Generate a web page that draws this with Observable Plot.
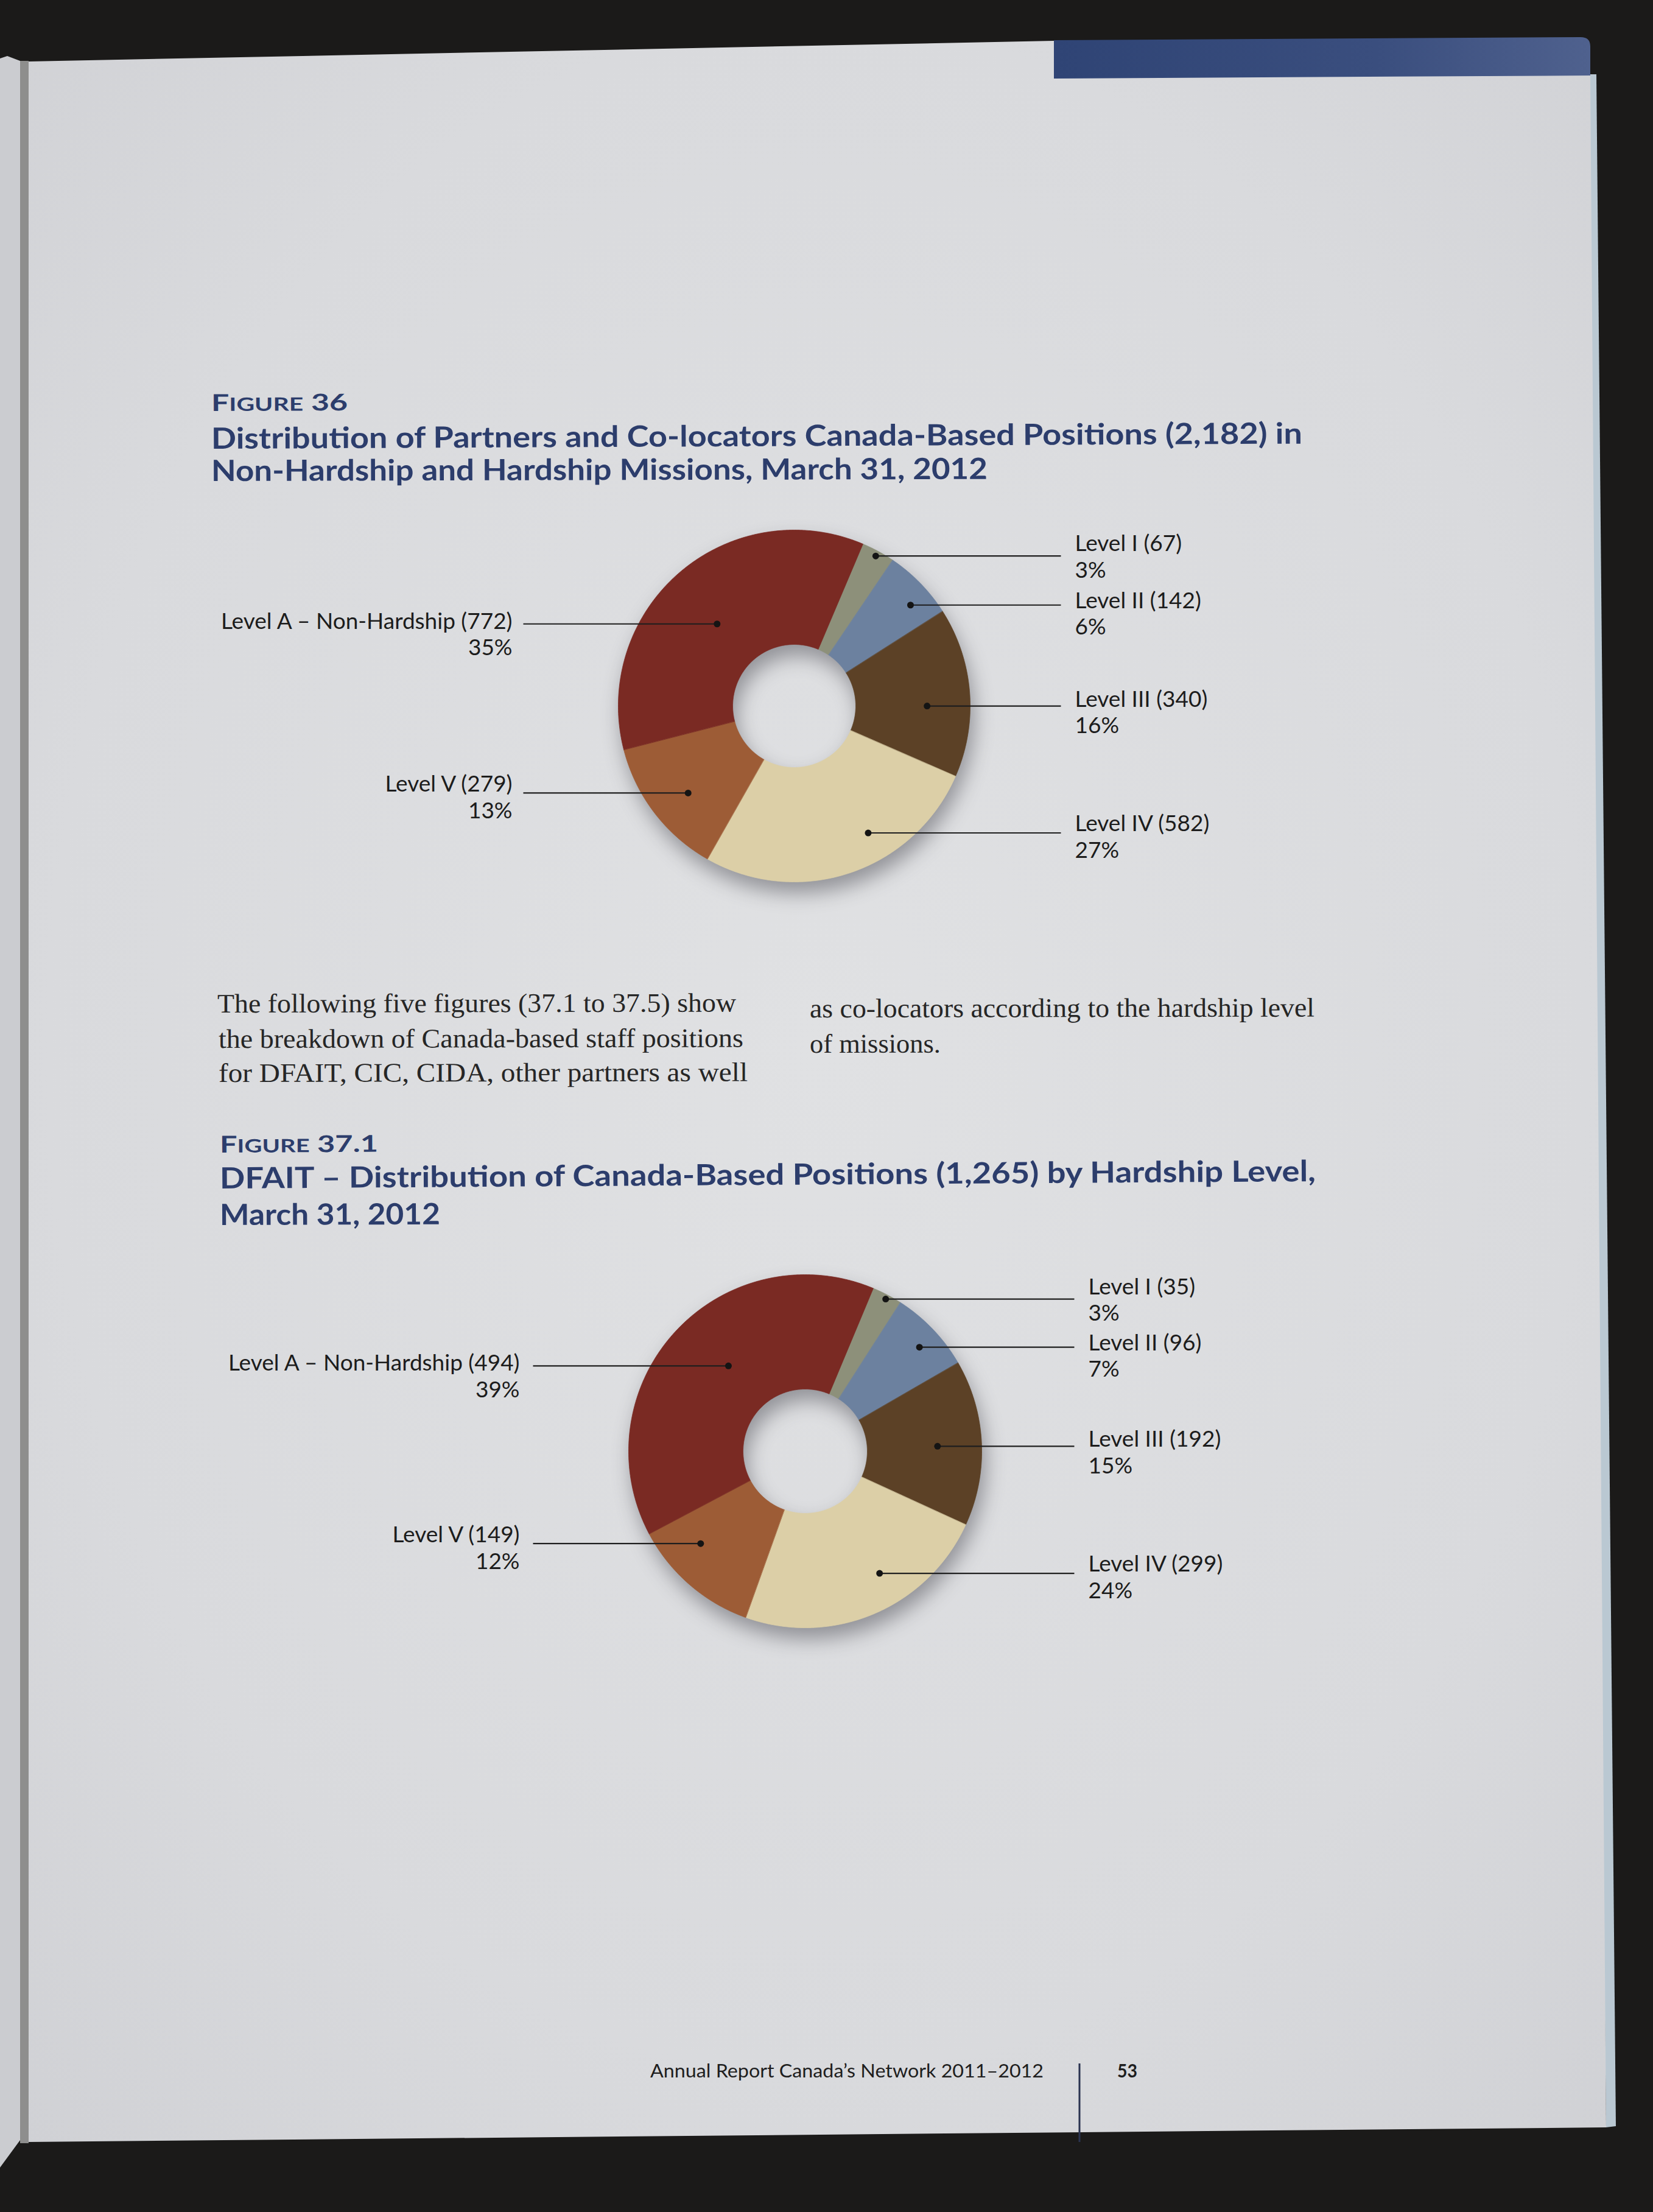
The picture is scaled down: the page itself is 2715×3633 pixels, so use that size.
<!DOCTYPE html>
<html><head><meta charset="utf-8">
<script src="https://cdn.jsdelivr.net/npm/d3@7"></script>
<script src="https://cdn.jsdelivr.net/npm/@observablehq/plot@0.6"></script>
<style>
html,body{margin:0;padding:0;background:#1b1a19;}
#page{position:relative;width:2715px;height:3633px;overflow:hidden;background:#1b1a19;}
#bg{position:absolute;left:0;top:0;}
</style></head>
<body><div id="page"><svg id="bg" width="2715" height="3633"></svg></div>
<script>
// ---------------- DATA ----------------
const categories = ["Level I", "Level II", "Level III", "Level IV", "Level V", "Level A – Non-Hardship"];
const fig36Counts = [67, 142, 340, 582, 279, 772];
const fig36Percents = [3, 6, 16, 27, 13, 35];
const fig371Counts = [35, 96, 192, 299, 149, 494];
const fig371Percents = [3, 7, 15, 24, 12, 39];

const fig36Label = "Figure 36";
const fig36Title = ["Distribution of Partners and Co-locators Canada-Based Positions (2,182) in",
                    "Non-Hardship and Hardship Missions, March 31, 2012"];
const fig371Label = "Figure 37.1";
const fig371Title = ["DFAIT – Distribution of Canada-Based Positions (1,265) by Hardship Level,",
                     "March 31, 2012"];
const bodyLeft = ["The following five figures (37.1 to 37.5) show",
                  "the breakdown of Canada-based staff positions",
                  "for DFAIT, CIC, CIDA, other partners as well"];
const bodyRight = ["as co-locators according to the hardship level", "of missions."];
const footerText = "Annual Report Canada’s Network 2011–2012";
const pageNumber = "53";

// ---------------- STYLE / LAYOUT ----------------
const palette = ["#8d907a", "#6c819f", "#5c4126", "#dccfa7", "#9d5c36", "#7a2a23"];
const navy = "#2c3d6c";
// vertical offset (px) of each label's first baseline relative to its leader line
const labelDy = [-13, 0, -4, -8, -7, 3];

const layout36 = {start: 23, cx: 1304, cy: 1159, R: 289, rIn: 101,
  box: {left: 300, top: 820, w: 2000, h: 700},
  lineL: 859, textL: 841, lineR: 1742, textR: 1765,
  anchorT: [0.5, 0.64, 0.58, 0.377, 0.457, 0.48],
  anchorR: [0.97, 0.875, 0.755, 0.835, 0.78, 0.64]};
const layout371 = {start: 22.7, cx: 1322, cy: 2383, R: 290, rIn: 102,
  box: {left: 300, top: 2040, w: 2000, h: 720},
  lineL: 875, textL: 853, lineR: 1764, textR: 1787,
  anchorT: [0.52, 0.55, 0.51, 0.40, 0.68, 0.54],
  anchorR: [0.975, 0.875, 0.75, 0.81, 0.79, 0.65]};

// ---------------- BACKGROUND PAGE ----------------
const bg = d3.select("#bg");
const defs = bg.append("defs");
const pg = defs.append("radialGradient").attr("id", "paperGrad").attr("cx", "50%").attr("cy", "48%").attr("r", "75%");
pg.append("stop").attr("offset", "0%").attr("stop-color", "#e0e1e3");
pg.append("stop").attr("offset", "65%").attr("stop-color", "#d9dadd");
pg.append("stop").attr("offset", "100%").attr("stop-color", "#cfd0d4");
const bb = defs.append("linearGradient").attr("id", "barGrad");
bb.append("stop").attr("offset", "0%").attr("stop-color", "#2f4475");
bb.append("stop").attr("offset", "60%").attr("stop-color", "#3a4e7e");
bb.append("stop").attr("offset", "100%").attr("stop-color", "#4f618e");

bg.append("polygon").attr("points", "0,96 12,92 33,100 33,3515 0,3560").attr("fill", "#cbccd0");
bg.append("rect").attr("x", 33).attr("y", 100).attr("width", 14).attr("height", 3420).attr("fill", "#8e8e8d");
bg.append("polygon").attr("points", "2600,122 2622,122 2654,3492 2638,3494").attr("fill", "#bac8d2");
bg.append("polygon").attr("points", "47,101 1731,67 2598,62 2610,70 2612,127 2638,3494 47,3518").attr("fill", "url(#paperGrad)");
bg.append("path").attr("d", "M1731,66 L2596,61 Q2612,61 2612,76 L2612,124 L1731,129 Z").attr("fill", "url(#barGrad)");
bg.append("line").attr("x1", 1773).attr("x2", 1773).attr("y1", 3389).attr("y2", 3518).attr("stroke", "#2a3350").attr("stroke-width", 3);

function txt(s, o) {
  const t = bg.append("text").attr("x", o.x).attr("y", o.y)
    .attr("font-family", o.family).attr("font-size", o.size).attr("font-weight", o.weight || 400)
    .attr("fill", o.fill).text(s);
  if (o.w) t.attr("textLength", o.w).attr("lengthAdjust", "spacingAndGlyphs");
  if (o.rot) t.attr("transform", `rotate(${o.rot},${o.x},${o.y})`);
  return t;
}
function smallCaps(s, o) {
  const t = bg.append("text").attr("x", o.x).attr("y", o.y)
    .attr("font-family", o.family).attr("font-weight", 700).attr("fill", o.fill)
    .attr("textLength", o.w).attr("lengthAdjust", "spacingAndGlyphs");
  const groups = [];
  for (const ch of s) {
    const small = ch !== ch.toUpperCase();
    if (groups.length && groups[groups.length - 1].small === small) groups[groups.length - 1].s += ch;
    else groups.push({small, s: ch});
  }
  groups.forEach(g => t.append("tspan").attr("font-size", g.small ? o.small : o.size).text(g.s.toUpperCase()));
  if (o.rot) t.attr("transform", `rotate(${o.rot},${o.x},${o.y})`);
}
const sans = "Lato, 'Open Sans', sans-serif";
const serif = "'Liberation Serif', 'DejaVu Serif', serif";

smallCaps(fig36Label, {x: 347, y: 675, w: 224, size: 38, small: 30, family: sans, fill: navy, rot: -0.25});
const t36 = [{x: 347, y: 737, w: 1792, rot: -0.27}, {x: 347, y: 790, w: 1275, rot: -0.15}];
fig36Title.forEach((s, i) => txt(s, {...t36[i], size: 48, weight: 700, family: sans, fill: navy}));

const bl = [{x: 357, y: 1663, w: 852}, {x: 359, y: 1721, w: 862}, {x: 359, y: 1777, w: 869}];
bodyLeft.forEach((s, i) => txt(s, {...bl[i], size: 44, family: serif, fill: "#262626", rot: -0.1}));
const br = [{x: 1330, y: 1671, w: 829}, {x: 1330, y: 1729, w: 215}];
bodyRight.forEach((s, i) => txt(s, {...br[i], size: 44, family: serif, fill: "#262626", rot: -0.1}));

smallCaps(fig371Label, {x: 361, y: 1893, w: 260, size: 38, small: 30, family: sans, fill: navy, rot: -0.3});
const t37 = [{x: 361, y: 1952, w: 1800, rot: -0.38}, {x: 361, y: 2012, w: 362, rot: -0.2}];
fig371Title.forEach((s, i) => txt(s, {...t37[i], size: 48, weight: 700, family: sans, fill: navy}));

txt(footerText, {x: 1068, y: 3412, w: 646, size: 30, family: sans, fill: "#1e1e1e"});
txt(pageNumber, {x: 1835, y: 3412, w: 33, size: 30, weight: 700, family: sans, fill: "#1e1e1e"});

// ---------------- DONUTS (Observable Plot) ----------------
function drawDonut(counts, percents, L) {
  const s0 = L.start * Math.PI / 180;
  const arcs = d3.pie().sort(null).value(d => d).startAngle(s0).endAngle(s0 + 2 * Math.PI)(counts);
  const inner = L.rIn / L.R;
  const ring = [];
  arcs.forEach((a, i) => {
    const n = Math.max(8, Math.ceil((a.endAngle - a.startAngle) / (Math.PI / 360)));
    for (let k = 0; k <= n; k++) {
      const t = a.startAngle + (a.endAngle - a.startAngle) * k / n;
      ring.push({i, x: Math.sin(t), y: -Math.cos(t), color: palette[i]});
    }
    for (let k = n; k >= 0; k--) {
      const t = a.startAngle + (a.endAngle - a.startAngle) * k / n;
      ring.push({i, x: inner * Math.sin(t), y: -inner * Math.cos(t), color: palette[i]});
    }
  });
  const leaders = arcs.map((a, i) => {
    const t = a.startAngle + L.anchorT[i] * (a.endAngle - a.startAngle);
    const rf = L.anchorR[i];
    const mid = ((a.startAngle + a.endAngle) / 2) % (2 * Math.PI);
    const left = mid > Math.PI;
    const y = -rf * Math.cos(t);
    return {i, left, x: rf * Math.sin(t), y,
      ty: y + labelDy[i] / L.R,
      x2: ((left ? L.lineL : L.lineR) - L.cx) / L.R,
      tx: ((left ? L.textL : L.textR) - L.cx) / L.R,
      label: `${categories[i]} (${counts[i]})\n${percents[i]}%`};
  });
  const {left: bx, top: by, w, h} = L.box;
  const textOpts = {x: "tx", y: "ty", text: "label", lineAnchor: "top", lineHeight: 1.18, dy: -26,
                    fontSize: 37, fontFamily: "Lato, 'Open Sans', sans-serif", fill: "#1c1c1c"};
  const svg = Plot.plot({
    width: w, height: h, margin: 0,
    x: {domain: [(bx - L.cx) / L.R, (bx + w - L.cx) / L.R], range: [0, w], axis: null},
    y: {domain: [(by - L.cy) / L.R, (by + h - L.cy) / L.R], range: [0, h], axis: null},
    color: {type: "identity"},
    style: {background: "transparent", overflow: "visible"},
    marks: [
      Plot.line(ring, {x: "x", y: "y", z: "i", fill: "color", stroke: "color", strokeWidth: 0.8, curve: "linear-closed"}),
      Plot.link(leaders, {x1: "x", y1: "y", x2: "x2", y2: "y", stroke: "#1e1e1e", strokeWidth: 2.2}),
      Plot.dot(leaders, {x: "x", y: "y", r: 5.5, fill: "#141414"}),
      Plot.text(leaders.filter(d => !d.left), {...textOpts, textAnchor: "start"}),
      Plot.text(leaders.filter(d => d.left), {...textOpts, textAnchor: "end"})
    ]
  });
  svg.style.position = "absolute";
  svg.style.left = bx + "px";
  svg.style.top = by + "px";
  svg.style.maxWidth = "none";
  const g = svg.querySelector('g[aria-label="line"]');
  if (g) g.style.filter = "drop-shadow(6px 18px 16px rgba(55,55,65,0.45))";
  document.getElementById("page").appendChild(svg);
}
drawDonut(fig36Counts, fig36Percents, layout36);
drawDonut(fig371Counts, fig371Percents, layout371);
</script></body></html>
